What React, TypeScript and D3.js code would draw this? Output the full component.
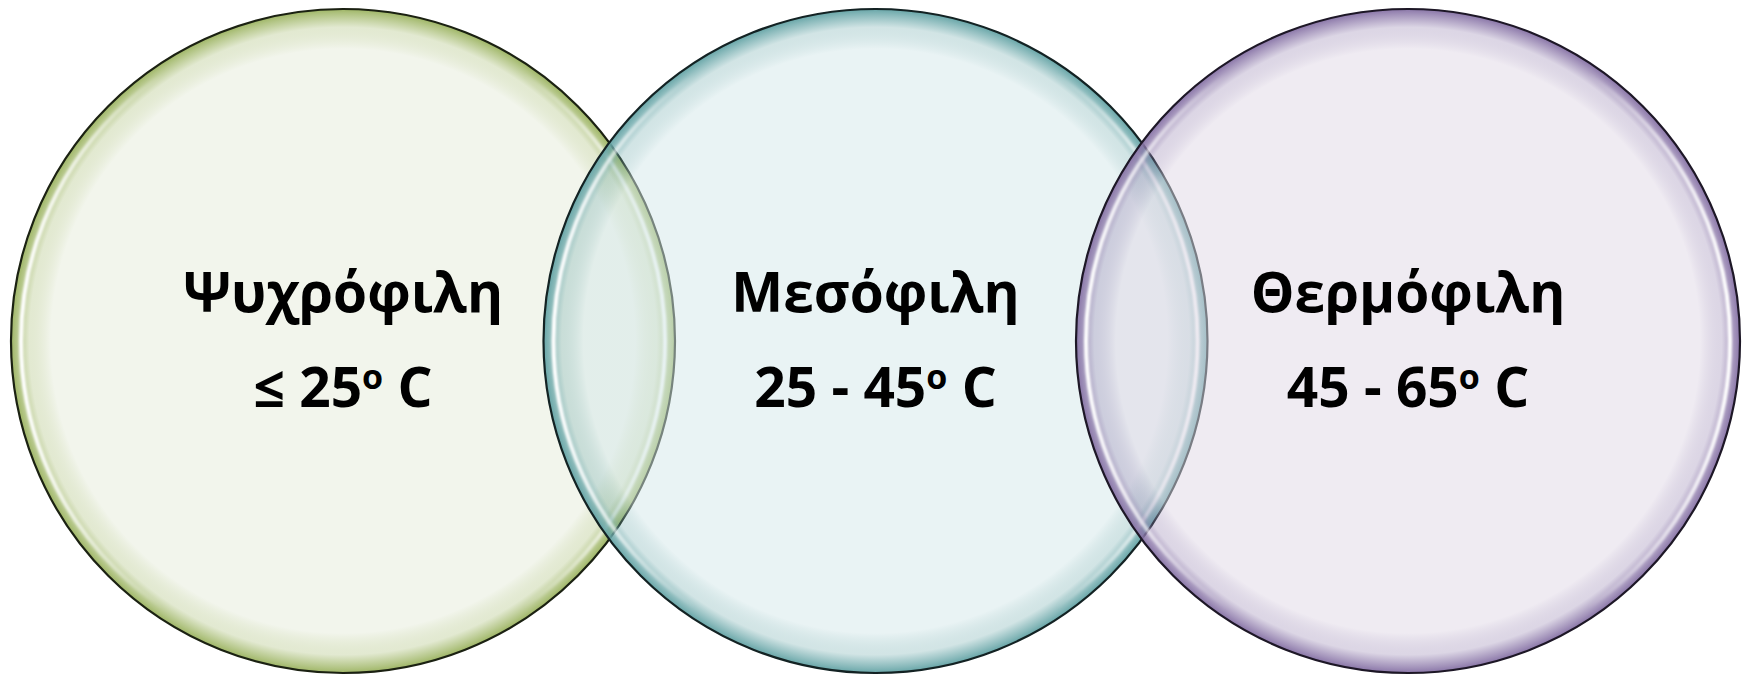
import React from "react";
import * as d3 from "d3";

// Temperature classes of bacterial growth, shown as three overlapping circles
const groups = ["Ψυχρόφιλη", "Μεσόφιλη", "Θερμόφιλη"];
const rangeText = ["≤ 25", "25 - 45", "45 - 65"];
const unitText = " C";
const innerColors = ["#e5ebd9", "#d3e7e9", "#dfd7e5"];
const rimColors = ["#9fb666", "#68a6a8", "#8a76a8"];
const edgeColors = ["#1b2112", "#132223", "#1d1726"];

const W = 1747;
const H = 676;
const R = 332;

export default function App() {
  const x = d3
    .scalePoint<string>()
    .domain(groups)
    .range([11 + R, W - 7 - R]);
  const cy = 341;

  return (
    <svg
      width={W}
      height={H}
      viewBox={`0 0 ${W} ${H}`}
      style={{ position: "absolute", left: 0, top: 0, display: "block" }}
    >
      <defs>
        {groups.map((g, i) => (
          <radialGradient key={g} id={`fill-${i}`} cx="50%" cy="50%" r="50%">
            <stop offset="0" stopColor={innerColors[i]} stopOpacity={0.5} />
            <stop offset="0.88" stopColor={innerColors[i]} stopOpacity={0.5} />
            <stop offset="0.945" stopColor={rimColors[i]} stopOpacity={0.3} />
            <stop offset="0.985" stopColor={rimColors[i]} stopOpacity={0.8} />
            <stop offset="1" stopColor={rimColors[i]} stopOpacity={1} />
          </radialGradient>
        ))}
        <linearGradient id="gloss" x1="0" y1="0" x2="1" y2="0">
          <stop offset="0" stopColor="#ffffff" stopOpacity={1} />
          <stop offset="0.1" stopColor="#ffffff" stopOpacity={0.6} />
          <stop offset="0.22" stopColor="#ffffff" stopOpacity={0} />
          <stop offset="0.78" stopColor="#ffffff" stopOpacity={0} />
          <stop offset="0.9" stopColor="#ffffff" stopOpacity={0.6} />
          <stop offset="1" stopColor="#ffffff" stopOpacity={1} />
        </linearGradient>
        <filter id="soft" x="-5%" y="-5%" width="110%" height="110%">
          <feGaussianBlur stdDeviation="1.2" />
        </filter>
      </defs>

      {groups.map((g, i) => {
        const cx = x(g) as number;
        return (
          <g key={g}>
            <circle cx={cx} cy={cy} r={R} fill={`url(#fill-${i})`} />
            <circle
              cx={cx}
              cy={cy}
              r={R - 10}
              fill="none"
              stroke="url(#gloss)"
              strokeWidth={4}
              filter="url(#soft)"
            />
            <circle
              cx={cx}
              cy={cy}
              r={R}
              fill="none"
              stroke={edgeColors[i]}
              strokeWidth={2.2}
            />
          </g>
        );
      })}

      {groups.map((g, i) => {
        const cx = x(g) as number;
        return (
          <g
            key={`t-${g}`}
            fontFamily="'Open Sans', 'Noto Sans', sans-serif"
            fontWeight={700}
            fontSize={55}
            fill="#000"
            textAnchor="middle"
          >
            <text x={cx} y={312}>
              {g}
            </text>
            <text x={cx} y={407}>
              {rangeText[i]}
              <tspan fontSize={34} dy={-18}>
                o
              </tspan>
              <tspan dy={18}>{unitText}</tspan>
            </text>
          </g>
        );
      })}
    </svg>
  );
}
